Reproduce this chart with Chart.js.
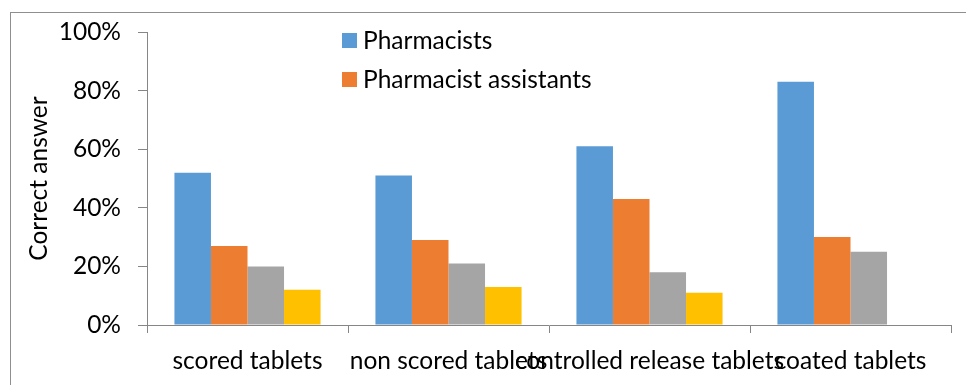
<!DOCTYPE html>
<html>
<head>
<meta charset="utf-8">
<script src="https://cdn.jsdelivr.net/npm/chart.js@4"></script>
<style>
  html, body { margin: 0; padding: 0; background: #fff; }
  #wrap { position: relative; width: 966px; height: 385px; overflow: hidden; }
  #frame { position: absolute; left: 10px; top: 12px; width: 1000px; height: 400px;
           border-left: 1px solid #8f8f8f; border-top: 1px solid #8f8f8f; }
  #box { position: absolute; left: 0; top: 0; width: 966px; height: 385px; }
  #legend { position: absolute; left: 342px; top: 26px; font-family: Lato, sans-serif;
            font-size: 24.5px; line-height: 28px; color: #000; }
  #legend div { height: 38.5px; display: flex; align-items: flex-start; }
  #legend span.sw { display: inline-block; width: 15px; height: 15px; margin-top: 7px; margin-right: 6px; }
</style>
</head>
<body>
<div id="wrap">
  <div id="frame"></div>
  <div id="box"><canvas id="barChart"></canvas></div>
  <div id="legend"></div>
</div>
<script>
// --- Data ---
const categories = ['scored tablets', 'non scored tablets', 'controlled release tablets', 'coated tablets'];
const pharmacists = [52, 51, 61, 83];
const assistants = [27, 29, 43, 30];
const series3 = [20, 21, 18, 25];
const series4 = [12, 13, 11, null];
const yTicks = [0, 20, 40, 60, 80, 100];

const FONT = 'Lato, sans-serif';
const FSIZE = 24.5;
const AXIS = '#868686';

function initChart() {
    const ctx = document.getElementById('barChart').getContext('2d');
    const chart = new Chart(ctx, {
        type: 'bar',
        data: {
            labels: categories,
            datasets: [
                { label: 'Pharmacists', data: pharmacists, backgroundColor: '#5b9bd5' },
                { label: 'Pharmacist assistants', data: assistants, backgroundColor: '#ed7d31' },
                { label: 'Series 3', data: series3, backgroundColor: '#a5a5a5' },
                { label: 'Series 4', data: series4, backgroundColor: '#ffc000' }
            ]
        },
        options: {
            responsive: true,
            maintainAspectRatio: false,
            devicePixelRatio: 1,
            animation: false,
            layout: { padding: { left: 0, top: 32, right: 15, bottom: 0 } },
            datasets: { bar: { categoryPercentage: 0.727, barPercentage: 1 } },
            scales: {
                x: {
                    grid: { drawOnChartArea: false, drawTicks: true, tickLength: 8, color: AXIS },
                    border: { color: AXIS, width: 1 },
                    ticks: { color: '#000', font: { family: FONT, size: FSIZE }, padding: 13,
                             autoSkip: false, maxRotation: 0, minRotation: 0 },
                    afterFit: (s) => { s.height = 60; }
                },
                y: {
                    min: 0,
                    max: 100,
                    afterBuildTicks: (s) => { s.ticks = yTicks.map(v => ({ value: v })); },
                    grid: { drawOnChartArea: false, drawTicks: true, tickLength: 9, color: AXIS },
                    border: { color: AXIS, width: 1 },
                    ticks: { color: '#000', font: { family: FONT, size: FSIZE }, padding: 17,
                             callback: (v) => v + '%' },
                    title: { display: true, text: 'Correct answer', color: '#000',
                             font: { family: FONT, size: FSIZE }, padding: { top: 24, bottom: 0 } },
                    afterFit: (s) => { s.width = 147; }
                }
            },
            plugins: {
                legend: { display: false },
                tooltip: { enabled: false }
            }
        }
    });

    // legend only for the two named groups
    const legend = document.getElementById('legend');
    chart.data.datasets.slice(0, 2).forEach(ds => {
        const row = document.createElement('div');
        const sw = document.createElement('span');
        sw.className = 'sw';
        sw.style.background = ds.backgroundColor;
        row.appendChild(sw);
        row.appendChild(document.createTextNode(ds.label));
        legend.appendChild(row);
    });
}

document.addEventListener('DOMContentLoaded', initChart);
</script>
</body>
</html>
